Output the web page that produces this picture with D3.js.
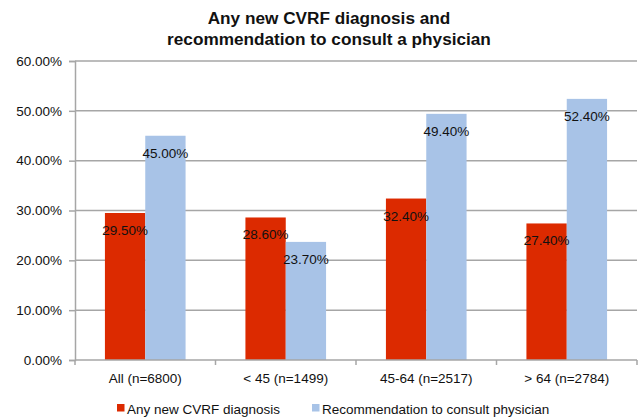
<!DOCTYPE html>
<html>
<head>
<meta charset="utf-8">
<script src="https://cdn.jsdelivr.net/npm/d3@7"></script>
<style>
  body { margin: 0; background: #fff; }
  text { font-family: "Liberation Sans", Arial, Helvetica, sans-serif; fill: #111; }
</style>
</head>
<body>
<div id="graph"></div>
<script>
// Data
let categories = ["All (n=6800)", "< 45 (n=1499)", "45-64 (n=2517)", "> 64 (n=2784)"];
let seriesNames = ["Any new CVRF diagnosis", "Recommendation to consult physician"];
let diagnosis = [29.5, 28.6, 32.4, 27.4];
let recommendation = [45.0, 23.7, 49.4, 52.4];
let yTicks = [0, 10, 20, 30, 40, 50, 60];
let titleLines = ["Any new CVRF diagnosis and", "recommendation to consult a physician"];
let colors = ["#dc2a00", "#a8c3e7"];

let width = 639;
let height = 420;
let plotLeft = 75, plotRight = 637, plotTop = 61, plotBottom = 360;

let svg = d3.select("#graph")
    .append("svg")
    .attr("width", width)
    .attr("height", height);

// Title
svg.append("g").selectAll("text")
    .data(titleLines)
    .join("text")
    .attr("x", 329)
    .attr("y", (d, i) => 24 + i * 20.5)
    .attr("text-anchor", "middle")
    .style("font-weight", "bold")
    .style("font-size", "17.2px")
    .text(d => d);

// Scales
let x0 = d3.scaleBand()
    .domain(categories)
    .range([plotLeft, plotRight])
    .paddingInner(0.426)
    .paddingOuter(0.213);

let x1 = d3.scaleBand()
    .domain(seriesNames)
    .range([0, x0.bandwidth()]);

let y = d3.scaleLinear()
    .domain([0, 60])
    .range([plotBottom, plotTop]);

// Grid lines
svg.append("g")
    .selectAll("line")
    .data(yTicks.slice(1))
    .join("line")
    .attr("x1", plotLeft)
    .attr("x2", plotRight)
    .attr("y1", d => y(d))
    .attr("y2", d => y(d))
    .attr("stroke", "#a6a6a6")
    .attr("stroke-width", 1.5);

// Y axis
let yAxis = svg.append("g")
    .attr("transform", "translate(" + plotLeft + ",0)")
    .call(d3.axisLeft(y).tickValues(yTicks).tickFormat(d => d.toFixed(2) + "%").tickSize(6).tickPadding(7));
yAxis.select(".domain").attr("stroke", "#a6a6a6").attr("stroke-width", 1.5);
yAxis.selectAll(".tick line").attr("stroke", "#a6a6a6").attr("stroke-width", 1.5);
yAxis.selectAll(".tick text").style("font-size", "13.5px").attr("fill", "#111");

// Bars
let rows = categories.map((c, i) => ({ cat: c, values: [diagnosis[i], recommendation[i]] }));

let groups = svg.append("g")
    .selectAll("g")
    .data(rows)
    .join("g")
    .attr("transform", d => "translate(" + x0(d.cat) + ",0)");

groups.selectAll("rect")
    .data(d => d.values.map((v, j) => ({ name: seriesNames[j], value: v, j: j })))
    .join("rect")
    .attr("x", d => x1(d.name))
    .attr("y", d => y(d.value))
    .attr("width", x1.bandwidth())
    .attr("height", d => plotBottom - y(d.value))
    .attr("fill", d => colors[d.j]);

groups.selectAll("text")
    .data(d => d.values.map((v, j) => ({ name: seriesNames[j], value: v })))
    .join("text")
    .attr("x", d => x1(d.name) + x1.bandwidth() / 2)
    .attr("y", d => y(d.value) + 22)
    .attr("text-anchor", "middle")
    .style("font-size", "13.5px")
    .text(d => d.value.toFixed(2) + "%");

// X axis
let boundaries = categories.map(c => x0(c) - x0.step() * x0.paddingOuter()).concat([plotRight]);
let xAxis = svg.append("g");
xAxis.append("line")
    .attr("x1", plotLeft).attr("x2", plotRight)
    .attr("y1", plotBottom).attr("y2", plotBottom)
    .attr("stroke", "#a6a6a6").attr("stroke-width", 1.5);
xAxis.selectAll(".tk")
    .data(boundaries)
    .join("line")
    .attr("class", "tk")
    .attr("x1", d => d).attr("x2", d => d)
    .attr("y1", plotBottom).attr("y2", plotBottom + 5)
    .attr("stroke", "#a6a6a6").attr("stroke-width", 1.5);
xAxis.selectAll("text")
    .data(categories)
    .join("text")
    .attr("x", d => x0(d) + x0.bandwidth() / 2)
    .attr("y", 383)
    .attr("text-anchor", "middle")
    .style("font-size", "13.5px")
    .text(d => d);

// Legend
let legendX = [117, 312];
let legend = svg.append("g")
    .selectAll("g")
    .data(seriesNames)
    .join("g")
    .attr("transform", (d, i) => "translate(" + legendX[i] + ",404)");
legend.append("rect")
    .attr("width", 7.5)
    .attr("height", 7.5)
    .attr("fill", (d, i) => colors[i]);
legend.append("text")
    .attr("x", 10)
    .attr("y", 9.5)
    .style("font-size", "13.5px")
    .text(d => d);
</script>
</body>
</html>
